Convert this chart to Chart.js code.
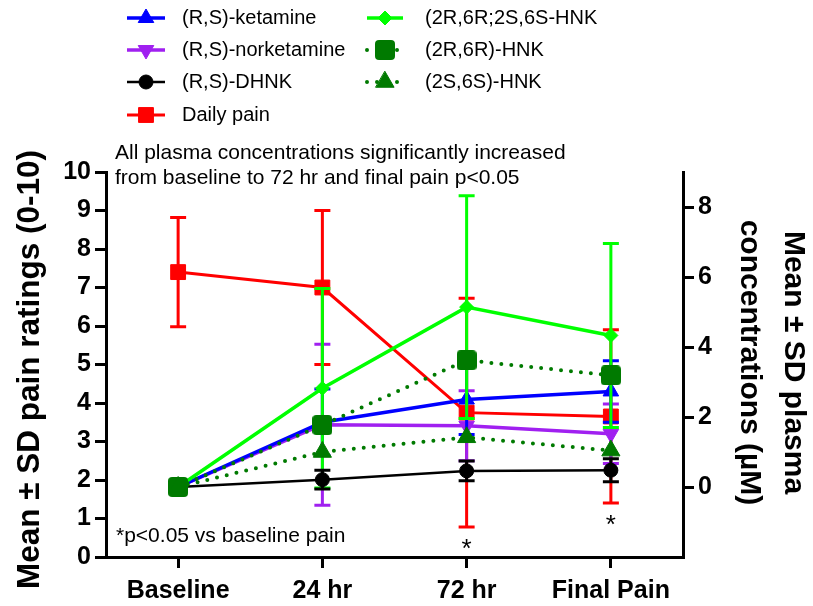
<!DOCTYPE html>
<html><head><meta charset="utf-8">
<script src="https://cdn.jsdelivr.net/npm/chart.js@4"></script>
<style>html,body{margin:0;padding:0;background:#fff}</style>
</head><body>
<canvas id="c" width="813" height="606"></canvas>
<script>
const categories = ['Baseline', '24 hr', '72 hr', 'Final Pain'];
const painMean = [7.4, 7.0, 3.75, 3.65];
const painSD = [1.42, 2.0, 2.97, 2.25];
const ketMean = [0, 1.85, 2.5, 2.73];
const ketSD = [0, 0.95, 1.0, 0.88];
const norketMean = [0, 1.78, 1.75, 1.52];
const norketSD = [0, 2.3, 1.0, 0.85];
const dhnkMean = [0, 0.21, 0.46, 0.48];
const dhnkSD = [0, 0.27, 0.28, 0.33];
const hnkMean = [0, 2.82, 5.14, 4.33];
const hnkSD = [0, 2.85, 3.18, 2.63];
const hnk2R6RMean = [0, 1.77, 3.62, 3.19];
const hnk2S6SMean = [0, 1.0, 1.42, 1.04];
const painTicks = [0,1,2,3,4,5,6,7,8,9,10];
const concTicks = [0, 2, 4, 6, 8];
const sigIdx = [2, 3];

const FONT = '"Liberation Sans", Arial, Helvetica, sans-serif';

// rounded-square marker for (2R,6R)-HNK
function roundedSquare(color, size, r) {
  const cv = document.createElement('canvas');
  cv.width = size; cv.height = size;
  const c = cv.getContext('2d');
  c.fillStyle = color;
  c.beginPath();
  c.moveTo(r, 0); c.lineTo(size - r, 0); c.quadraticCurveTo(size, 0, size, r);
  c.lineTo(size, size - r); c.quadraticCurveTo(size, size, size - r, size);
  c.lineTo(r, size); c.quadraticCurveTo(0, size, 0, size - r);
  c.lineTo(0, r); c.quadraticCurveTo(0, 0, r, 0);
  c.closePath(); c.fill();
  return cv;
}
const dkGreen = '#007a00';
const sqMarker = roundedSquare(dkGreen, 20, 4);

function ds(label, data, sd, color, axis, style, radius, order, extra) {
  return Object.assign({
    label, data, sd, yAxisID: axis, order,
    borderColor: color, backgroundColor: color,
    pointBackgroundColor: color, pointBorderColor: color,
    pointStyle: style, pointRadius: radius, pointHoverRadius: radius,
    pointBorderWidth: 1, borderWidth: 3, tension: 0, clip: false, fill: false
  }, extra || {});
}

const datasets = [
  ds('(R,S)-ketamine', ketMean, ketSD, '#0000ff', 'y2', 'triangle', 9, 5, {borderWidth: 3.5}),
  ds('(R,S)-norketamine', norketMean, norketSD, '#a020f0', 'y2', 'triangle', 9, 6, {pointRotation: 180, borderWidth: 3.5}),
  ds('(R,S)-DHNK', dhnkMean, dhnkSD, '#000000', 'y2', 'circle', 7, 3, {borderWidth: 2.5}),
  ds('Daily pain', painMean, painSD, '#ff0000', 'y', 'rect', 10.5, 7, {borderWidth: 3}),
  ds('(2R,6R;2S,6S-HNK', hnkMean, hnkSD, '#00ff00', 'y2', 'rectRot', 7, 4, {borderWidth: 3.5}),
  ds('(2R,6R)-HNK', hnk2R6RMean, null, dkGreen, 'y2', sqMarker, 10, 2, {borderWidth: 4, borderDash: [0, 10], borderCapStyle: 'round'}),
  ds('(2S,6S)-HNK', hnk2S6SMean, null, dkGreen, 'y2', 'triangle', 10.5, 1, {borderWidth: 4, borderDash: [0, 10], borderCapStyle: 'round'})
];

const errorBars = {
  id: 'errorBars',
  beforeDatasetDraw(chart, args) {
    const d = chart.data.datasets[args.index];
    if (!d.sd) return;
    const ys = chart.scales[d.yAxisID];
    const ctx = chart.ctx;
    ctx.save();
    ctx.strokeStyle = d.borderColor;
    ctx.lineWidth = 3;
    args.meta.data.forEach((pt, i) => {
      const sd = d.sd[i];
      if (!sd) return;
      const yt = ys.getPixelForValue(d.data[i] + sd);
      const yb = ys.getPixelForValue(d.data[i] - sd);
      ctx.beginPath();
      ctx.moveTo(pt.x, yt); ctx.lineTo(pt.x, yb);
      ctx.moveTo(pt.x - 8, yt); ctx.lineTo(pt.x + 8, yt);
      ctx.moveTo(pt.x - 8, yb); ctx.lineTo(pt.x + 8, yb);
      ctx.stroke();
    });
    ctx.restore();
  }
};

const extras = {
  id: 'extras',
  afterDraw(chart) {
    const ctx = chart.ctx;
    ctx.save();
    ctx.fillStyle = '#000';
    // axis titles
    ctx.textAlign = 'center';
    ctx.textBaseline = 'alphabetic';
    const cy = (chart.chartArea.top + chart.chartArea.bottom) / 2;
    ctx.font = 'bold 31.5px ' + FONT;
    ctx.save(); ctx.translate(39, cy + 5); ctx.rotate(-Math.PI / 2);
    ctx.fillText('Mean \u00b1 SD pain ratings (0-10)', 0, 0); ctx.restore();
    ctx.font = 'bold 30px ' + FONT;
    ctx.save(); ctx.translate(785, cy - 2); ctx.rotate(Math.PI / 2);
    ctx.fillText('Mean \u00b1 SD plasma', 0, 0); ctx.restore();
    ctx.save(); ctx.translate(741, cy - 2); ctx.rotate(Math.PI / 2);
    ctx.fillText('concentrations (\u00b5M)', 0, 0); ctx.restore();

    // annotations
    ctx.font = '21px ' + FONT;
    ctx.textAlign = 'left';
    ctx.textBaseline = 'middle';
    ctx.fillText('All plasma concentrations significantly increased', 115, 153);
    ctx.fillText('from baseline to 72 hr and final pain p<0.05', 115, 178);
    ctx.fillText('*p<0.05 vs baseline pain', 116, 536);

    // significance asterisks
    ctx.font = '26px ' + FONT;
    ctx.textAlign = 'center';
    ctx.textBaseline = 'alphabetic';
    const xs = chart.scales.x, ys = chart.scales.y;
    sigIdx.forEach(i => {
      const yb = ys.getPixelForValue(painMean[i] - painSD[i]);
      ctx.fillText('*', xs.getPixelForValue(i), yb + 30);
    });

    // legend
    const cols = [
      {items: [0, 1, 2, 3], x0: 127, x1: 165, xm: 146, tx: 182},
      {items: [4, 5, 6], x0: 367, x1: 403, xm: 385, tx: 425}
    ];
    const rowY = [18, 50, 82, 115];
    ctx.font = '20px ' + FONT;
    ctx.textAlign = 'left';
    ctx.textBaseline = 'middle';
    cols.forEach(c => {
      c.items.forEach((di, r) => {
        const d = chart.data.datasets[di];
        const y = rowY[r];
        ctx.save();
        ctx.strokeStyle = d.borderColor;
        ctx.lineWidth = d.borderWidth;
        ctx.lineCap = d.borderCapStyle || 'butt';
        ctx.setLineDash(d.borderDash || []);
        ctx.beginPath(); ctx.moveTo(c.x0, y); ctx.lineTo(c.x1, y); ctx.stroke();
        ctx.setLineDash([]);
        ctx.fillStyle = d.backgroundColor;
        ctx.strokeStyle = d.borderColor;
        ctx.lineWidth = 1;
        Chart.helpers.drawPoint(ctx, {pointStyle: d.pointStyle, rotation: d.pointRotation || 0, radius: d.pointRadius, borderWidth: 1}, c.xm, y);
        ctx.restore();
        ctx.fillStyle = '#000';
        ctx.fillText(d.label, c.tx, y);
      });
    });
    ctx.restore();
  }
};

const tickFont = {family: FONT, size: 25, weight: 'bold'};
const axisGrid = {display: true, drawOnChartArea: false, drawTicks: true, tickLength: 11, color: '#000', lineWidth: 3, offset: false};
const axisBorder = {display: true, color: '#000', width: 3};

new Chart(document.getElementById('c'), {
  type: 'line',
  data: {labels: categories, datasets},
  options: {
    responsive: false, animation: false, devicePixelRatio: 1,
    layout: {padding: {top: 172, left: 0, right: 0, bottom: 0}, autoPadding: false},
    plugins: {legend: {display: false}, tooltip: {enabled: false}},
    scales: {
      x: {
        type: 'category', offset: true,
        grid: axisGrid, border: axisBorder,
        ticks: {color: '#000', font: tickFont, padding: 8, maxRotation: 0, autoSkip: false},
        afterFit(s) { s.height = 49; }
      },
      y: {
        position: 'left', min: 0, max: 10,
        grid: axisGrid, border: axisBorder,
        ticks: {color: '#000', font: tickFont, padding: 4, stepSize: 1},
        afterBuildTicks(s) { s.ticks = painTicks.map(v => ({value: v})); },
        afterFit(s) { s.width = 106; }
      },
      y2: {
        position: 'right', min: -2, max: 9,
        grid: axisGrid, border: axisBorder,
        ticks: {color: '#000', font: tickFont, padding: 4},
        afterBuildTicks(s) { s.ticks = concTicks.map(v => ({value: v})); },
        afterFit(s) { s.width = 130; }
      }
    }
  },
  plugins: [errorBars, extras]
});
</script>
</body></html>
